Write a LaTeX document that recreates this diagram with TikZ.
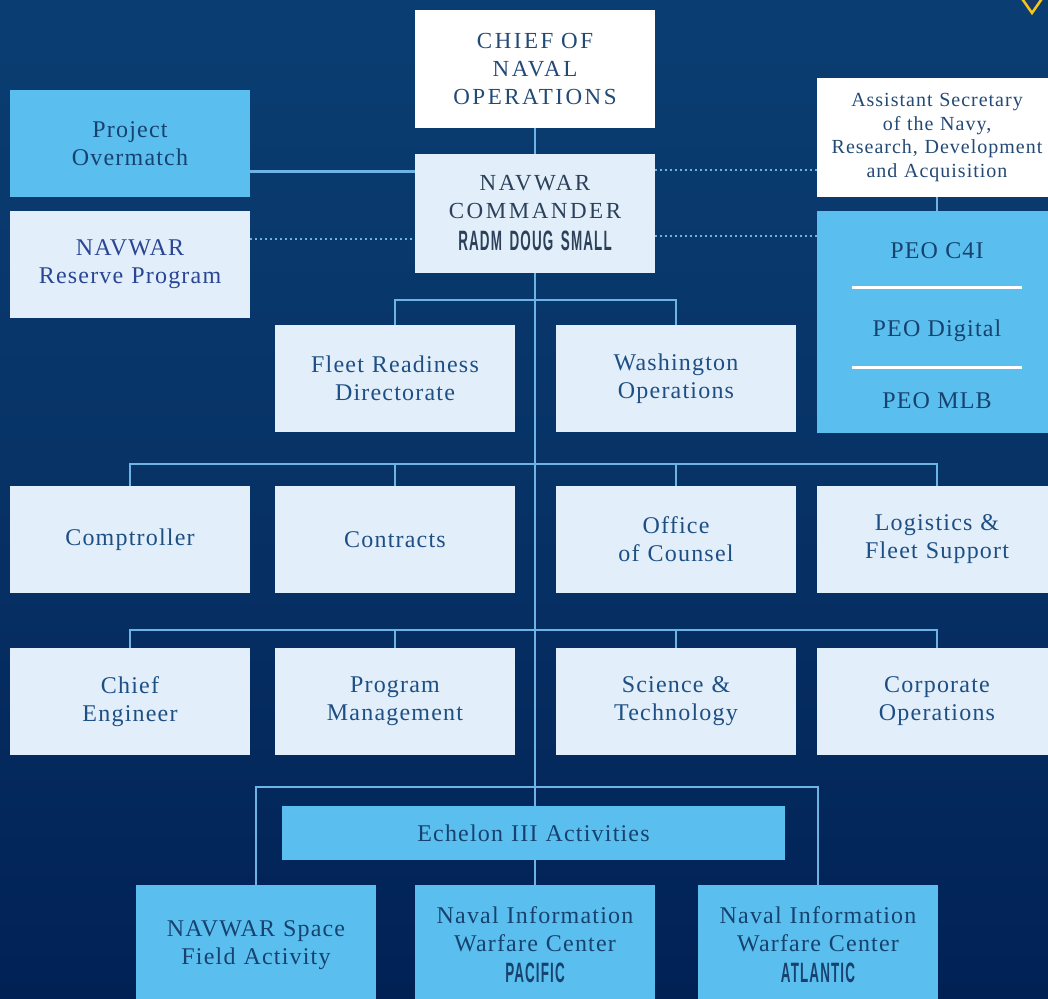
\documentclass[tikz,border=0pt]{standalone}
\usepackage{fontspec}
\setmainfont{Liberation Serif}
\newfontfamily\spA[LetterSpace=5]{Liberation Serif}
\newfontfamily\spC[LetterSpace=11]{Liberation Serif}
\newfontfamily\condfont[FakeStretch=0.48,LetterSpace=4]{Liberation Sans Bold}
\usetikzlibrary{backgrounds}
\definecolor{bgtop}{RGB}{10,62,114}
\definecolor{bgmid}{RGB}{7,50,102}
\definecolor{bgbot}{RGB}{1,33,85}
\definecolor{skyb}{HTML}{5ABFEE}
\definecolor{lightbox}{HTML}{E2EFFA}
\definecolor{txtlight}{HTML}{1E4F84}
\definecolor{txtdark}{HTML}{17426F}
\definecolor{cnotxt}{HTML}{234A75}
\definecolor{cmdtxt}{HTML}{2C4159}
\definecolor{resblue}{HTML}{2A4595}
\definecolor{lineblue}{HTML}{6DB3E6}
\definecolor{goldy}{HTML}{F5C518}
\definecolor{trifill}{HTML}{17386A}
\pgfdeclarelayer{bg}
\pgfdeclarelayer{lines}
\pgfsetlayers{bg,lines,main}
\tikzset{
  box/.style={rectangle, minimum width=240pt, minimum height=107pt, inner sep=0pt,
    text width=236pt, align=center, font=\spA\fontsize{24}{28}\selectfont},
  lbox/.style={box, fill=lightbox, text=txtlight},
  bbox/.style={box, fill=skyb, text=txtdark},
  wbox/.style={box, fill=white, text=cnotxt},
  ptext/.style={inner sep=0pt, align=center, text=txtdark, font=\spA\fontsize{24}{28}\selectfont},
  conn/.style={draw=lineblue, line width=2.6pt},
  dotline/.style={draw=lineblue, line width=2pt, dash pattern=on 2pt off 3pt},
  sepline/.style={draw=white, line width=3pt}
}
\begin{document}
\begin{tikzpicture}[x=1pt,y=-1pt]
\begin{pgfonlayer}{bg}
  \fill[top color=bgtop, bottom color=bgbot, middle color=bgmid] (0,0) rectangle (1048,998);
\end{pgfonlayer}
\useasboundingbox (0,0) rectangle (1048,998);

% top row
\node[wbox, minimum height=118pt, font=\spC\fontsize{23}{28}\selectfont] (cno) at (535,69) {CHIEF OF\\NAVAL\\OPERATIONS};
\node[lbox, minimum height=119pt, text=cmdtxt, font=\spC\fontsize{23}{28}\selectfont] (cmd) at (535,213.5)
  {NAVWAR\\COMMANDER\\[4pt]{\condfont\fontsize{28}{28}\selectfont RADM DOUG SMALL}};
\node[bbox] (po) at (130,143.5) {Project\\Overmatch};
\node[lbox, text=resblue] (res) at (130,264.5) {NAVWAR\\Reserve Program};
\node[wbox, minimum height=119pt, font=\spA\fontsize{20}{23.7}\selectfont] (asn) at (937,137.5)
  {Assistant Secretary\\of the Navy,\\Research, Development\\and Acquisition};
\node[bbox, minimum height=222pt] (peo) at (937,322) {};
\node[ptext] (peo1) at (937,251) {PEO C4I};
\node[ptext] (peo2) at (937,331) {PEO Digital};
\node[ptext] (peo3) at (937,401) {PEO MLB};
\draw[sepline] (852,287) -- (1022,287);
\draw[sepline] (852,367) -- (1022,367);

% second level
\node[lbox] (frd) at (395,378.5) {Fleet Readiness\\Directorate};
\node[lbox] (wash) at (676,378.5) {Washington\\Operations};

% row 2
\node[lbox] (comp) at (130,539.5) {Comptroller};
\node[lbox] (cont) at (395,539.5) {Contracts};
\node[lbox] (coun) at (676,539.5) {Office\\of Counsel};
\node[lbox] (logi) at (937,539.5) {Logistics \&\\Fleet Support};

% row 3
\node[lbox] (ce) at (130,701.5) {Chief\\Engineer};
\node[lbox] (pm) at (395,701.5) {Program\\Management};
\node[lbox] (st) at (676,701.5) {Science \&\\Technology};
\node[lbox] (co) at (937,701.5) {Corporate\\Operations};

% echelon III
\node[bbox, minimum width=503pt, minimum height=54pt, text width=500pt] (ech) at (533.5,833) {Echelon III Activities};
\node[bbox, minimum height=120pt] (nsfa) at (256,945) {NAVWAR Space\\Field Activity};
\node[bbox, minimum height=120pt] (niwcp) at (535,945)
  {Naval Information\\Warfare Center\\[3pt]{\condfont\fontsize{28}{28}\selectfont PACIFIC}};
\node[bbox, minimum height=120pt] (niwca) at (818,945)
  {Naval Information\\Warfare Center\\[3pt]{\condfont\fontsize{28}{28}\selectfont ATLANTIC}};

% connectors
\begin{pgfonlayer}{lines}
  \draw[conn] (cno.south) -- (cmd.north);
  \draw[conn] (cmd.south) -- (niwcp.north);
  \draw[conn] ([yshift=-28pt]po.east) -- ([yshift=-28pt]po.east -| cmd.west);
  \draw[dotline] ([yshift=26pt]res.east) -- ([yshift=26pt]res.east -| cmd.west);
  \draw[dotline] ([yshift=-32.5pt]asn.west) -- ([yshift=-32.5pt]asn.west -| cmd.east);
  \draw[dotline] ([yshift=86pt]peo.west) -- ([yshift=86pt]peo.west -| cmd.east);
  \draw[conn] (asn.south) -- (peo.north);
  \draw[conn] (frd.north) -- ++(0,-25) -| (wash.north);
  \draw[conn] (comp.north) -- ++(0,-22) -| (logi.north);
  \draw[conn] (cont.north) -- ++(0,-22);
  \draw[conn] (coun.north) -- ++(0,-22);
  \draw[conn] (ce.north) -- ++(0,-18) -| (co.north);
  \draw[conn] (pm.north) -- ++(0,-18);
  \draw[conn] (st.north) -- ++(0,-18);
  \draw[conn] (nsfa.north) -- ++(0,-98) -| (niwca.north);
\end{pgfonlayer}

% corner mark
\draw[goldy, line width=2.5pt, fill=trifill] (1016,-10) -- (1032,13) -- (1048,-10);
\end{tikzpicture}
\end{document}
